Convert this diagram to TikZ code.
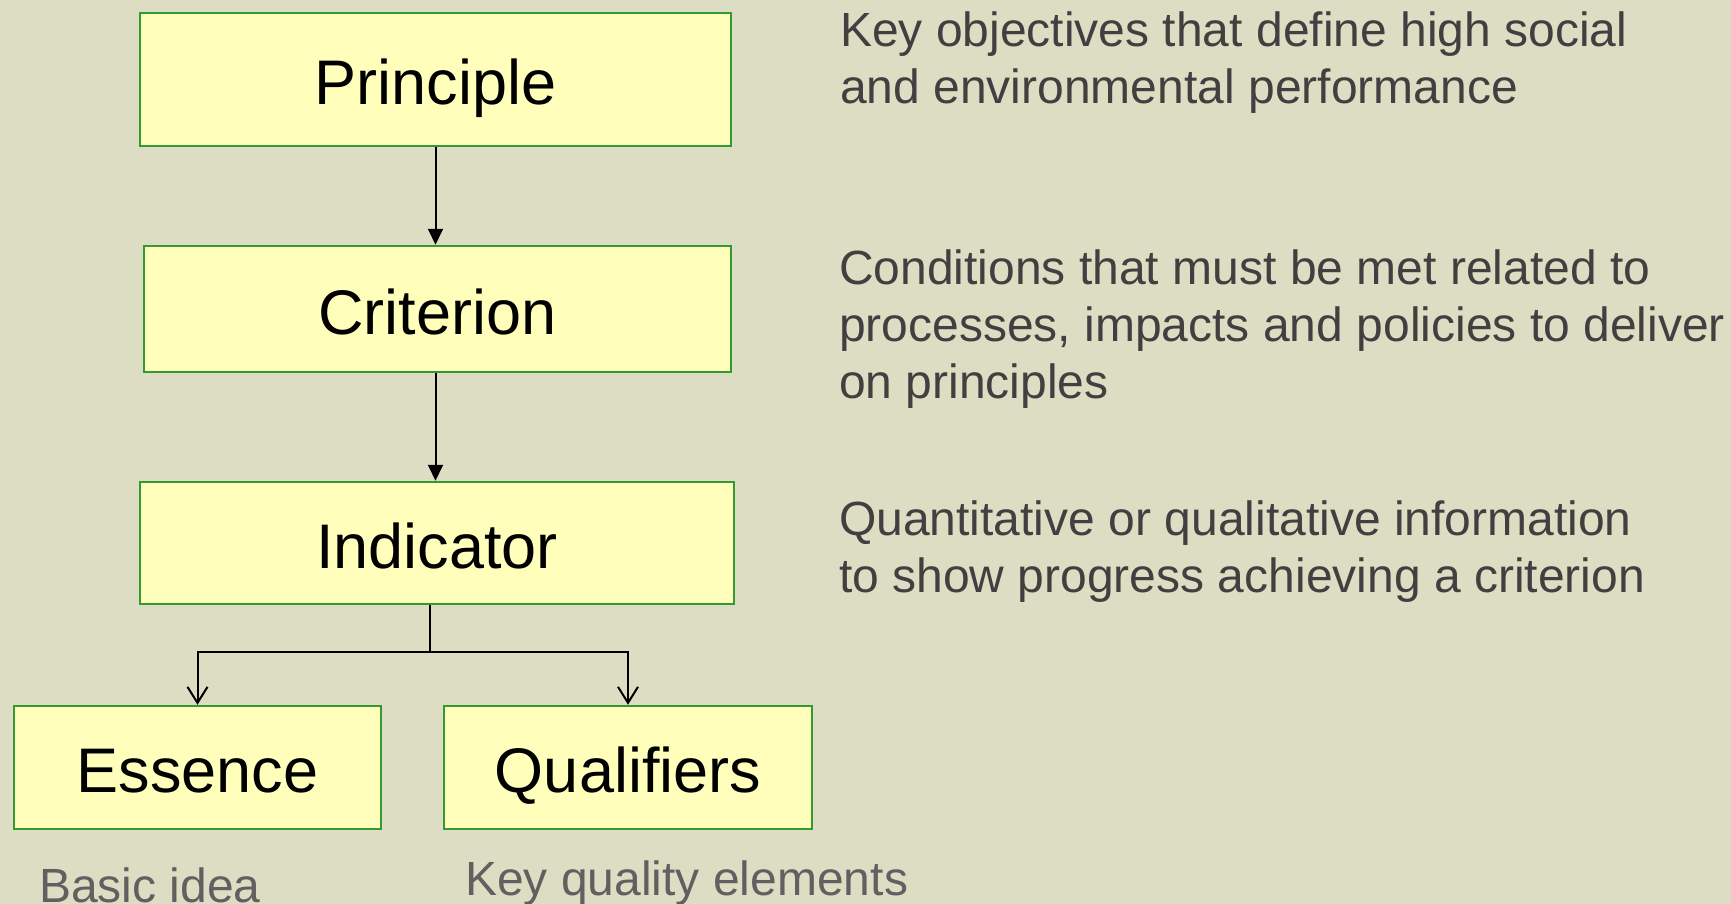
\documentclass[tikz,border=0pt]{standalone}
\usepackage{fontspec}
\setmainfont{Liberation Sans}
\usetikzlibrary{arrows.meta}
\definecolor{fond}{RGB}{221,221,196}
\definecolor{jaune}{RGB}{255,255,187}
\definecolor{vert}{RGB}{51,153,51}
\definecolor{gristexte}{RGB}{64,64,64}
\definecolor{grisclair}{RGB}{96,96,96}

\begin{document}
\begin{tikzpicture}[x=1pt,y=-1pt,
	boite/.style={draw=vert,fill=jaune,line width=2.5pt,inner sep=0pt,
		text height=50pt,text depth=0pt,font=\fontsize{63}{75}\selectfont},
	texte/.style={anchor=base west,align=left,inner sep=0pt,text=gristexte,
		font=\fontsize{48}{57}\selectfont},
	fleche/.style={line width=2pt,-{Triangle[length=16pt,width=15pt]}},
	branche/.style={line width=2pt,-{Straight Barb[length=16pt,width=20pt]}}]
\useasboundingbox (0,0) rectangle (1731,904);
\fill[fond] (0,0) rectangle (1731,904);
\par
	\node[boite,minimum width=591pt,minimum height=133pt] (principe) at (435.5,79.5) {Principle};
	\node[boite,minimum width=587pt,minimum height=126pt] (critere) at (437.5,309) {Criterion};
	\node[boite,minimum width=594pt,minimum height=122pt] (indicateur) at (437,543) {Indicator};
	\node[boite,minimum width=367pt,minimum height=123pt] (essence) at (197.5,767.5) {Essence};
	\node[boite,minimum width=368pt,minimum height=123pt] (qualif) at (628,767.5) {Qualifiers};
	\coordinate (partage) at (430,652);
	\draw[fleche] (principe.south) -- (principe.south |- critere.north);
	\draw[fleche] (critere.south -| principe.south) -- (principe.south |- indicateur.north);
	\draw[line width=2pt] (indicateur.south -| partage) -- (partage);
	\draw[branche] (partage) -| (essence.north);
	\draw[branche] (partage) -| (qualif.north);
	% base = last line
	\node[texte] (txtprincipe) at (840,104) {Key objectives that define high social\\
		and environmental performance};
	\node[texte] (txtcritere) at (839,398) {Conditions that must be met related to\\
		processes, impacts and policies to deliver\\ on principles};
	\node[texte] (txtindicateur) at (839,592) {Quantitative or qualitative information\\
		to show progress achieving a criterion};
	\node[texte,text=grisclair] (txtessence) at (39,902) {Basic idea};
	\node[texte,text=grisclair] (txtqualif) at (465,895) {Key quality elements};
\end{tikzpicture}
\end{document}
